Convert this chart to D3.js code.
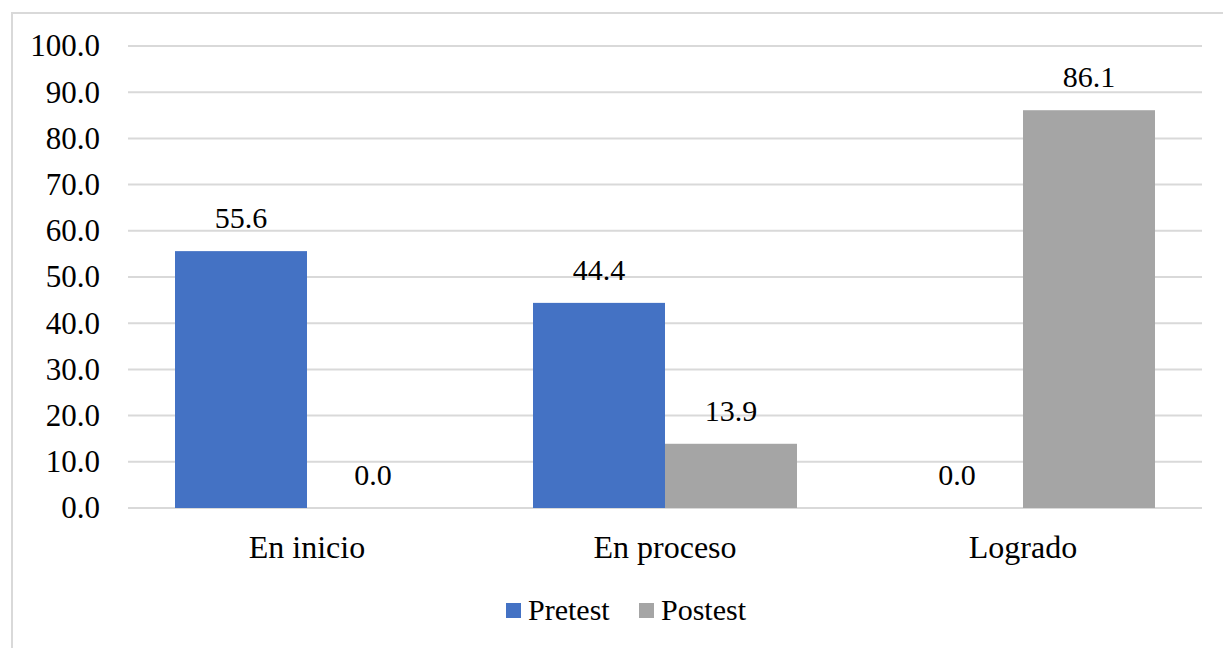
<!DOCTYPE html>
<html>
<head>
<meta charset="utf-8">
<script src="https://cdn.jsdelivr.net/npm/d3@7"></script>
</head>
<body style="margin:0; background:#fff">
<script>
// data
var categories = ["En inicio", "En proceso", "Logrado"];
var seriesNames = ["Pretest", "Postest"];
var pretest = [55.6, 44.4, 0.0];
var postest = [0.0, 13.9, 86.1];
var yTicks = [0, 10, 20, 30, 40, 50, 60, 70, 80, 90, 100];
var colors = ["#4472C4", "#A5A5A5"];

var W = 1223, H = 648;
var plotLeft = 128, plotRight = 1202, plotTop = 46, plotBottom = 508;
var FONT = "Times New Roman";
var FSIZE = 30;

var svg = d3.select("body").append("svg")
  .attr("width", W)
  .attr("height", H)
  .attr("font-family", FONT)
  .attr("font-size", FSIZE);

// chart frame
svg.append("rect")
  .attr("x", 12).attr("y", 13)
  .attr("width", W + 20).attr("height", H + 20)
  .attr("fill", "none")
  .attr("stroke", "#d9d9d9")
  .attr("stroke-width", 2);

var data = categories.map(function(c, i) {
  return { cat: c, values: [pretest[i], postest[i]] };
});

var x0 = d3.scaleBand()
  .domain(categories)
  .range([plotLeft, plotRight])
  .paddingInner(0.2626)
  .paddingOuter(0.1313);

var x1 = d3.scaleBand()
  .domain(seriesNames)
  .range([0, x0.bandwidth()]);

var y = d3.scaleLinear()
  .domain([0, 100])
  .range([plotBottom, plotTop]);

// gridlines
svg.append("g")
  .selectAll("line")
  .data(yTicks)
  .enter().append("line")
    .attr("x1", plotLeft).attr("x2", plotRight)
    .attr("y1", function(d) { return y(d); })
    .attr("y2", function(d) { return y(d); })
    .attr("stroke", "#d9d9d9")
    .attr("stroke-width", 2);

// y axis labels
var yAxis = svg.append("g")
  .attr("transform", "translate(" + plotLeft + ",0)")
  .call(d3.axisLeft(y).tickValues(yTicks).tickFormat(d3.format(".1f")).tickSize(0).tickPadding(28));
yAxis.select(".domain").remove();
yAxis.attr("font-family", FONT).attr("font-size", 31);
yAxis.selectAll("text")
  .attr("font-family", FONT)
  .attr("fill", "#000");

// bars
var groups = svg.append("g")
  .selectAll("g")
  .data(data)
  .enter().append("g")
    .attr("transform", function(d) { return "translate(" + x0(d.cat) + ",0)"; });

groups.selectAll("rect")
  .data(function(d) { return d.values.map(function(v, j) { return { s: seriesNames[j], v: v, j: j }; }); })
  .enter().append("rect")
    .attr("x", function(d) { return x1(d.s); })
    .attr("width", x1.bandwidth())
    .attr("y", function(d) { return y(d.v); })
    .attr("height", function(d) { return y(0) - y(d.v); })
    .attr("fill", function(d) { return colors[d.j]; });

groups.selectAll("text.val")
  .data(function(d) { return d.values.map(function(v, j) { return { s: seriesNames[j], v: v }; }); })
  .enter().append("text")
    .attr("class", "val")
    .attr("x", function(d) { return x1(d.s) + x1.bandwidth() / 2; })
    .attr("y", function(d) { return y(d.v) - 23; })
    .attr("text-anchor", "middle")
    .attr("fill", "#000")
    .attr("font-family", FONT)
    .text(function(d) { return d3.format(".1f")(d.v); });

// x axis labels
svg.append("g")
  .selectAll("text")
  .data(categories)
  .enter().append("text")
    .attr("x", function(d) { return x0(d) + x0.bandwidth() / 2; })
    .attr("y", 558)
    .attr("text-anchor", "middle")
    .attr("fill", "#000")
    .attr("font-family", FONT)
    .attr("font-size", 32)
    .text(function(d) { return d; });

// legend
var legendX = [506, 639];
var legend = svg.append("g")
  .selectAll("g")
  .data(seriesNames)
  .enter().append("g")
    .attr("transform", function(d, i) { return "translate(" + legendX[i] + ",603)"; });
legend.append("rect")
  .attr("width", 15).attr("height", 15)
  .attr("fill", function(d, i) { return colors[i]; });
legend.append("text")
  .attr("x", 22)
  .attr("y", 17)
  .attr("fill", "#000")
  .attr("font-family", FONT)
  .text(function(d) { return d; });
</script>
</body>
</html>
